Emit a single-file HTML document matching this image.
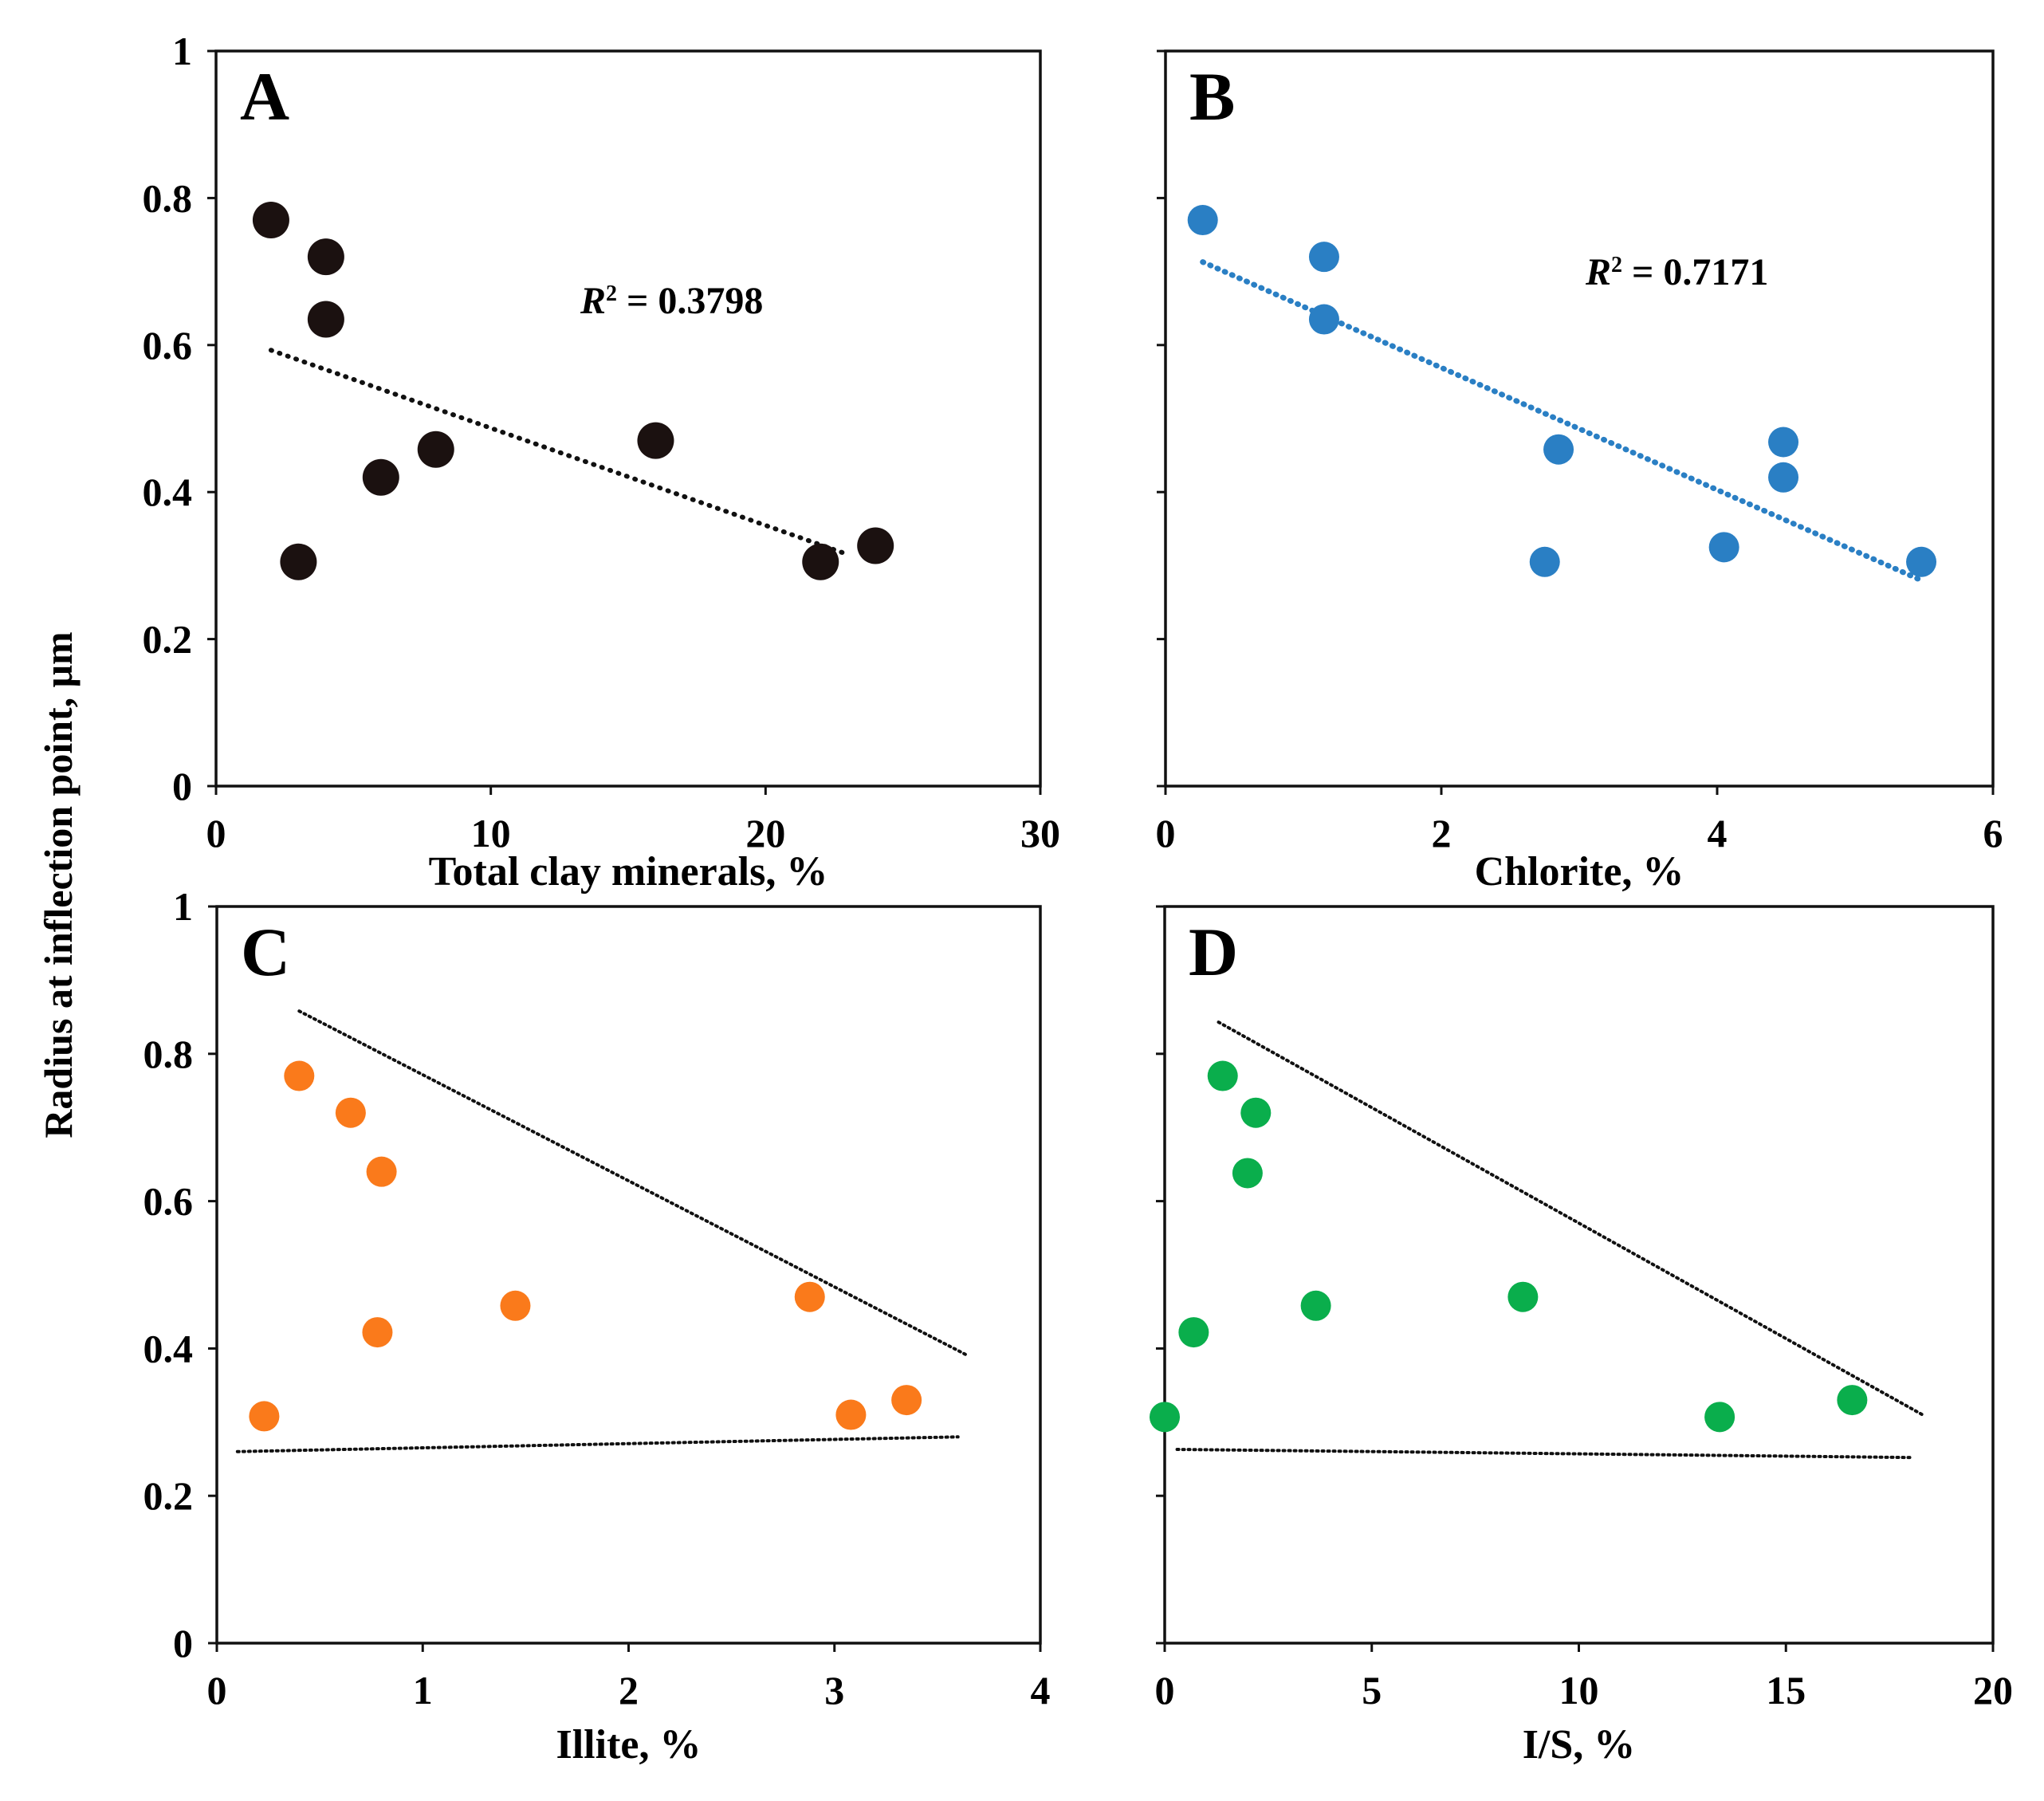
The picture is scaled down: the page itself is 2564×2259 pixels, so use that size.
<!DOCTYPE html>
<html><head><meta charset="utf-8"><style>
body{margin:0;background:#fff}
svg{display:block;font-family:"Liberation Serif",serif;font-weight:bold}
</style></head><body>
<svg id="chart" width="2564" height="2259" viewBox="0 0 2564 2259" xmlns="http://www.w3.org/2000/svg">
<text x="0" y="0" transform="translate(90,1110) rotate(-90)" text-anchor="middle" font-size="50">Radius at inflection point, μm</text>
</svg>
<script>
const yTicks=[0,0.2,0.4,0.6,0.8,1];
const ticksA=[0,10,20,30], ticksB=[0,2,4,6], ticksC=[0,1,2,3,4], ticksD=[0,5,10,15,20];
const xA=[2,4,4,3,6,8,16,22,24];
const yA=[0.77,0.72,0.635,0.305,0.42,0.458,0.47,0.305,0.327];
const xB=[0.27,1.15,1.15,2.85,2.75,4.05,4.48,4.48,5.48];
const yB=[0.77,0.72,0.635,0.458,0.305,0.325,0.468,0.42,0.305];
const xC=[0.4,0.65,0.8,0.78,1.45,2.88,3.08,3.35,0.23];
const yC=[0.77,0.72,0.64,0.422,0.458,0.47,0.31,0.33,0.308];
const xD=[1.4,2.2,2.0,0.7,3.65,8.65,13.4,16.6,0];
const yD=[0.77,0.72,0.638,0.422,0.458,0.47,0.307,0.33,0.307];
const trendA=[[2,0.593],[23,0.315]];
const trendB=[[0.27,0.713],[5.48,0.28]];
const upperC=[[0.4,0.858],[3.65,0.39]], lowerC=[[0.1,0.26],[3.6,0.28]];
const upperD=[[1.3,0.843],[18.3,0.31]], lowerD=[[0.3,0.263],[18,0.252]];

const svg=document.getElementById('chart');
const NS='http://www.w3.org/2000/svg';
function mk(tag,attrs,parent){const e=document.createElementNS(NS,tag);for(const k in attrs)e.setAttribute(k,attrs[k]);(parent||svg).appendChild(e);return e;}

const panels=[
 {id:'a',L:271,R:1305,T:64,B:986,xmax:30,ticks:ticksA,xs:xA,ys:yA,color:'#1b1110',r:23,label:'A',title:'Total clay minerals, %',ylabels:true,lines:[[trendA,6,'1 10']],r2:'0.3798',r2x:728,r2y:393},
 {id:'b',L:1462,R:2500,T:64,B:986,xmax:6,ticks:ticksB,xs:xB,ys:yB,color:'#2a7fc4',r:19,label:'B',title:'Chlorite, %',ylabels:false,lines:[[trendB,7,'1 9','#2a7fc4']],r2:'0.7171',r2x:1989,r2y:357},
 {id:'c',L:272,R:1305,T:1137,B:2061,xmax:4,ticks:ticksC,xs:xC,ys:yC,color:'#fa7a1b',r:19,label:'C',title:'Illite, %',ylabels:true,lines:[[upperC,4,'2 5'],[lowerC,4,'2 5']]},
 {id:'d',L:1461,R:2500,T:1137,B:2061,xmax:20,ticks:ticksD,xs:xD,ys:yD,color:'#0aae4c',r:19,label:'D',title:'I/S, %',ylabels:false,lines:[[upperD,4,'2 5'],[lowerD,4,'2 5']]}
];
panels.forEach(p=>{
 const g=mk('g',{});
 
 
 const sx=v=>p.L+(p.R-p.L)*v/p.xmax, sy=v=>p.B-(p.B-p.T)*v;
 const fr=mk('rect',{x:p.L,y:p.T,width:p.R-p.L,height:p.B-p.T,fill:'none',stroke:'#111','stroke-width':3.5},g);
 
 
 yTicks.forEach(t=>{
  mk('line',{x1:p.L-11,x2:p.L,y1:sy(t),y2:sy(t),stroke:'#111','stroke-width':3},g);
  if(p.ylabels){const tx=mk('text',{x:p.L-30,y:sy(t)+17,'text-anchor':'end','font-size':50},g);tx.textContent=t;
   
   }
 });
 p.ticks.forEach(t=>{
  mk('line',{x1:sx(t),x2:sx(t),y1:p.B,y2:p.B+11,stroke:'#111','stroke-width':3},g);
  const tx=mk('text',{x:sx(t),y:p.B+76,'text-anchor':'middle','font-size':50},g);tx.textContent=t;
  
  
 });
 const ti=mk('text',{x:(p.L+p.R)/2,y:p.B+(p.id==='a'||p.id==='b'?124:144),'text-anchor':'middle','font-size':52},g);ti.textContent=p.title;
 
 
 const lb=mk('text',{x:p.L+30,y:p.T+86,'font-size':86},g);lb.textContent=p.label;
 
 
 p.lines.forEach(([pts,w,dash,col])=>{
  const ln=mk('line',{x1:sx(pts[0][0]),y1:sy(pts[0][1]),x2:sx(pts[1][0]),y2:sy(pts[1][1]),stroke:col||'#111','stroke-width':w,'stroke-dasharray':dash,'stroke-linecap':'round'},g);
  
  
 });
 p.xs.forEach((x,i)=>{
  const c=mk('circle',{cx:sx(x),cy:sy(p.ys[i]),r:p.r,fill:p.color},g);
  
  
 });
 if(p.r2){
  const t=mk('text',{x:p.r2x,y:p.r2y,'font-size':48},g);
  t.innerHTML='<tspan font-style="italic">R</tspan><tspan font-size="28" dy="-16">2</tspan><tspan dy="16"> = '+p.r2+'</tspan>';
  
  
 }
});
</script>
</body></html>
